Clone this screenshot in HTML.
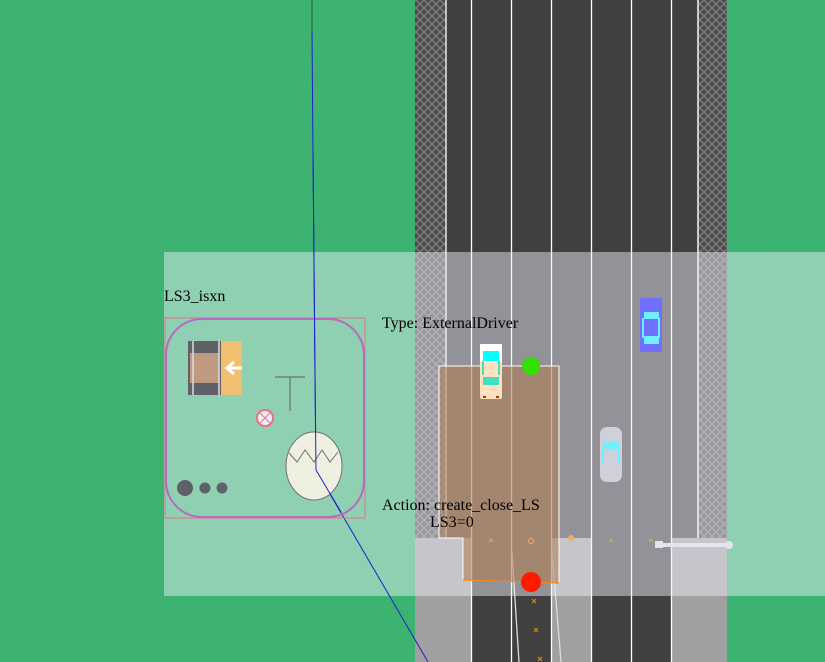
<!DOCTYPE html>
<html><head><meta charset="utf-8"><style>
html,body{margin:0;padding:0;width:825px;height:662px;overflow:hidden;background:#3cb371}
svg{display:block}
text{font-family:"Liberation Serif",serif;font-size:16px;fill:#000}
</style></head><body>
<svg width="825" height="662" viewBox="0 0 825 662" xmlns="http://www.w3.org/2000/svg">
<defs>
<pattern id="hatch" width="8" height="8" patternUnits="userSpaceOnUse">
<rect width="8" height="8" fill="#4a4a4a"/>
<path d="M0 0L8 8M8 0L0 8" stroke="#7a7a7a" stroke-width="1.5"/>
</pattern>
</defs>
<rect width="825" height="662" fill="#3cb371"/>
<rect x="415" y="0" width="31" height="662" fill="url(#hatch)"/>
<rect x="697" y="0" width="30" height="662" fill="url(#hatch)"/>
<rect x="446" y="0" width="251" height="662" fill="#404040"/>
<rect x="415" y="538" width="56" height="124" fill="#a0a0a0"/>
<rect x="551" y="538" width="40" height="124" fill="#a0a0a0"/>
<rect x="671" y="538" width="56" height="124" fill="#a0a0a0"/>
<g stroke="#fff" stroke-width="1.3">
<line x1="446" y1="0" x2="446" y2="538"/>
<line x1="471.5" y1="0" x2="471.5" y2="662"/>
<line x1="511.5" y1="0" x2="511.5" y2="662"/>
<line x1="551.5" y1="0" x2="551.5" y2="662"/>
<line x1="591.5" y1="0" x2="591.5" y2="662"/>
<line x1="631.5" y1="0" x2="631.5" y2="662"/>
<line x1="671.5" y1="0" x2="671.5" y2="662"/>
<line x1="698" y1="0" x2="698" y2="538"/>
</g>
<g stroke="#ddd" stroke-width="1.3">
<line x1="512" y1="552" x2="519" y2="662"/>
<line x1="552" y1="552" x2="561" y2="662"/>
</g>
<rect x="655" y="541" width="8" height="7" fill="#dcdce4"/>
<rect x="662" y="543" width="66" height="4" fill="#dcdce4"/>
<circle cx="729" cy="545" r="4" fill="#dcdce4"/>
<!-- overlay -->
<rect x="164" y="252" width="661" height="344" fill="#eeeefa" fill-opacity="0.47"/>
<polyline points="312,0 312,32" stroke="#1a5a4a" stroke-width="1" fill="none"/>
<polyline points="312,32 313,155 315,375 316,470 428,662" stroke="#2020cc" stroke-width="1" fill="none"/>
<polygon points="439,366 559,366 559,583 463,580 463,538 439,538" fill="#b07c50" fill-opacity="0.55"/>
<polyline points="463,580 463,538 439,538 439,366 559,366 559,583" fill="none" stroke="#fff" stroke-width="1"/>
<line x1="463" y1="580" x2="559" y2="583" stroke="#f08a20" stroke-width="1.2"/>
<g fill="#e8b060">
<path d="M489 542l2-3 2 3" stroke="#e8b060" fill="none"/>
<path d="M609 542l2-3 2 3" stroke="#e8b060" fill="none"/>
<path d="M649 542l2-3 2 3" stroke="#e8b060" fill="none"/>
<circle cx="531" cy="541" r="2.5" fill="none" stroke="#e8b060"/>
<circle cx="571" cy="538" r="3"/>
</g>
<g stroke="#d08a10" stroke-width="1.2">
<path d="M532 599l4 4M536 599l-4 4"/>
<path d="M534 628l4 4M538 628l-4 4"/>
<path d="M538 657l4 4M542 657l-4 4"/>
</g>
<g>
<rect x="480" y="344" width="22" height="55" rx="2" fill="#ffe0c0"/>
<rect x="480" y="344" width="22" height="18" fill="#fff"/>
<rect x="483" y="351" width="16" height="10" fill="#00ffff"/>
<rect x="482" y="361" width="2" height="14" fill="#40e0c0"/>
<rect x="498" y="361" width="2" height="14" fill="#40e0c0"/>
<rect x="483" y="377" width="16" height="8" fill="#40e0c0"/>
<rect x="483" y="396" width="3" height="2" fill="#a04000"/>
<rect x="496" y="396" width="3" height="2" fill="#a04000"/>
</g>
<g>
<rect x="640" y="298" width="22" height="54" rx="2" fill="#7070ff"/>
<rect x="644" y="312" width="15" height="7" fill="#70f0ff"/>
<rect x="644" y="336" width="15" height="8" fill="#70f0ff"/>
<rect x="642" y="318" width="2" height="20" fill="#70f0ff"/>
<rect x="658" y="318" width="2" height="20" fill="#70f0ff"/>
</g>
<g>
<rect x="600" y="427" width="22" height="55" rx="7" fill="#d0d0da"/>
<rect x="603" y="442" width="16" height="8" fill="#70f0ff"/>
<rect x="602" y="450" width="2" height="14" fill="#70f0ff"/>
<rect x="618" y="450" width="2" height="14" fill="#70f0ff"/>
</g>
<circle cx="531" cy="366" r="9" fill="#33e000"/>
<circle cx="531" cy="582" r="10" fill="#ff1a00"/>
<rect x="165" y="318" width="200" height="200" fill="none" stroke="#e87090" stroke-width="1"/>
<rect x="166" y="319" width="198" height="198" rx="36" fill="none" stroke="#b86ac0" stroke-width="2"/>
<rect x="188" y="341" width="54" height="54" fill="#f0c070"/>
<rect x="188" y="341" width="33" height="54" fill="#606068"/>
<rect x="190" y="353" width="29" height="30" fill="#c09a80"/>
<line x1="193" y1="341" x2="193" y2="395" stroke="#ddd" stroke-width="1.5"/>
<line x1="219" y1="341" x2="219" y2="395" stroke="#ddd" stroke-width="1.5"/>
<path d="M242 368H228M234 362l-7 6 7 6" stroke="#fff" stroke-width="3" fill="none"/>
<path d="M275 377h30M290 377v34" stroke="#707070" stroke-width="1.2" fill="none"/>
<circle cx="265" cy="418" r="8" fill="#eef" stroke="#f07080" stroke-width="2"/>
<path d="M260 413l10 10M270 413l-10 10" stroke="#f07080" stroke-width="1"/>
<ellipse cx="314" cy="466" rx="28" ry="34" fill="#f0f0e0" stroke="#707070"/>
<path d="M289 453l8 9 8-12 9 12 8-12 8 12 8-10" fill="none" stroke="#707070"/>
<circle cx="185" cy="488" r="8" fill="#606068"/>
<circle cx="205" cy="488" r="5.5" fill="#606068"/>
<circle cx="222" cy="488" r="5.5" fill="#606068"/>
<polyline points="313,150 315,375 316,470 341,512" stroke="#2020cc" stroke-width="1" fill="none"/>
<text x="164" y="301">LS3_isxn</text>
<text x="382" y="328">Type: ExternalDriver</text>
<text x="382" y="510">Action: create_close_LS</text>
<text x="430" y="527">LS3=0</text>
</svg>
</body></html>
